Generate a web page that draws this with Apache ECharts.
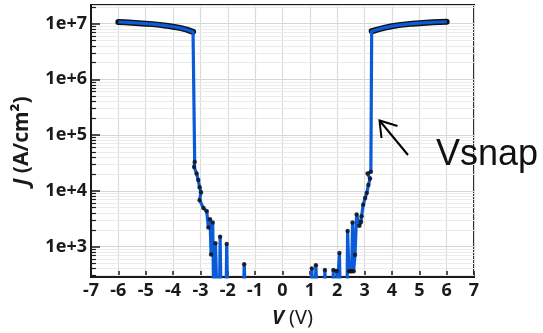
<!DOCTYPE html>
<html>
<head>
<meta charset="utf-8">
<script src="https://cdn.jsdelivr.net/npm/echarts@6/dist/echarts.min.js"></script>
<style>
html,body{margin:0;padding:0;background:#fff;}
#c{width:543px;height:333px;}
</style>
</head>
<body>
<div id="c"></div>
<script>
// ---- data ----
// left high-current plateau (V, J)
var leftPlateauV = [-6.0, -5.75, -5.5, -5.25, -5.0, -4.75, -4.5, -4.25, -4.0, -3.75, -3.5, -3.27];
var leftPlateauJ = [1.07e7, 1.06e7, 1.04e7, 1.02e7, 1.0e7, 9.8e6, 9.5e6, 9.2e6, 8.8e6, 8.4e6, 7.8e6, 7.1e6];
// left low-current tail (values below 284 fall outside the plotted range)
var leftTailV = [-3.21, -3.23, -3.14, -3.08, -3.03, -2.98, -3.03, -2.89, -2.77, -2.71, -2.65, -2.61, -2.55, -2.52, -2.47, -2.45, -2.40, -2.30, -2.28, -2.25, -2.19, -2.06, -2.04, -2.01, -1.42, -1.40, -1.36];
var leftTailJ = [3.3e4, 2.67e4, 2.04e4, 1.56e4, 1.16e4, 9.4e3, 6.8e3, 4.9e3, 4.3e3, 2.2e3, 3.1e3, 723, 2.7e3, 150, 150, 1.14e3, 150, 150, 1.5e3, 150, 150, 150, 1.11e3, 150, 150, 482, 150];
// right low-current tail
var rightTailV = [1.05, 1.07, 1.12, 1.20, 1.22, 1.26, 1.53, 1.55, 1.58, 1.84, 1.86, 1.98, 2.00, 2.06, 2.08, 2.11, 2.36, 2.38, 2.43, 2.48, 2.53, 2.56, 2.60, 2.65, 2.71, 2.81, 2.87, 2.89, 2.95, 3.02, 3.08, 3.14, 3.20, 3.11, 3.23];
var rightTailJ = [150, 405, 150, 150, 462, 150, 150, 378, 150, 150, 378, 365, 150, 150, 762, 150, 150, 1.9e3, 360, 360, 360, 2.7e3, 360, 714, 3.77e3, 2.35e3, 2.75e3, 3.5e3, 5.6e3, 7.4e3, 9.1e3, 1.27e4, 1.66e4, 2.04e4, 2.2e4];
// right high-current plateau
var rightPlateauV = [3.26, 3.5, 3.75, 4.0, 4.25, 4.5, 4.75, 5.0, 5.25, 5.5, 5.75, 6.0];
var rightPlateauJ = [7.3e6, 7.9e6, 8.5e6, 9.0e6, 9.4e6, 9.7e6, 1.0e7, 1.02e7, 1.04e7, 1.06e7, 1.07e7, 1.08e7];

var xTicks = [-7, 7, 1];          // min, max, interval
var yRange = [284, 2.16e7];

function pairs(v, j) { return v.map(function (x, i) { return [x, j[i]]; }); }

var fullCurve = [].concat(pairs(leftPlateauV, leftPlateauJ), pairs(leftTailV, leftTailJ),
                          pairs(rightTailV, rightTailJ), pairs(rightPlateauV, rightPlateauJ));
var tailDots = [].concat(pairs(leftTailV, leftTailJ), pairs(rightTailV, rightTailJ))
  .filter(function (p) { return p[1] >= yRange[0]; });

// minor log grid positions
var minorVals = [];
for (var d = 2; d <= 7; d++) for (var k = 2; k <= 9; k++) {
  var v = k * Math.pow(10, d);
  if (v > yRange[0] && v < yRange[1]) minorVals.push(v);
}
var minorGrid = minorVals.map(function (v) { return { yAxis: v }; });
var minorTicks = minorVals.map(function (v) { return [{ coord: [-7, v] }, { coord: [-6.82, v] }]; });

var font = 'Noto Sans';
var outlineStyle = { color: '#111', width: 6, cap: 'round', join: 'round' };
var chart = echarts.init(document.getElementById('c'));
chart.setOption({
  animation: false,
  backgroundColor: '#fff',
  grid: { left: 91, right: 69, top: 5, bottom: 51, show: true, borderColor: '#1a1a1a', borderWidth: 2, backgroundColor: 'transparent' },
  xAxis: {
    type: 'value', min: xTicks[0], max: xTicks[1], interval: xTicks[2],
    axisLine: { onZero: false, lineStyle: { color: '#1a1a1a', width: 2 } },
    axisTick: { inside: true, length: 6, lineStyle: { color: '#1a1a1a', width: 1.5 } },
    axisLabel: { color: '#1a1a1a', fontFamily: font, fontWeight: 'bold', fontSize: 18, margin: 5 },
    splitLine: { lineStyle: { color: '#dcdcdc', width: 1.2 } },
    name: '{i|V} (V)', nameLocation: 'middle', nameGap: 31,
    nameTextStyle: { fontFamily: font, fontSize: 20, color: '#1a1a1a', padding: [0, 0, 0, 20],
      rich: { i: { fontStyle: 'italic', fontFamily: font, fontSize: 20, fontWeight: 'bold', color: '#1a1a1a' } } }
  },
  yAxis: {
    type: 'log', logBase: 10, min: yRange[0], max: yRange[1],
    axisLine: { onZero: false, lineStyle: { color: '#1a1a1a', width: 2 } },
    axisTick: { inside: true, length: 9, lineStyle: { color: '#1a1a1a', width: 1.5 } },
    axisLabel: { color: '#1a1a1a', fontFamily: font, fontWeight: 'bold', fontSize: 18, margin: 4,
      showMinLabel: false, showMaxLabel: false,
      formatter: function (v) { return '1e+' + Math.round(Math.log10(v)); } },
    splitLine: { lineStyle: { color: '#d6d6d6', width: 1.2 } },
    name: '{i|J} (A/cm²)', nameLocation: 'middle', nameGap: 58, nameRotate: 90,
    nameTextStyle: { fontFamily: font, fontSize: 21, fontWeight: 'bold', color: '#1a1a1a',
      rich: { i: { fontStyle: 'italic', fontFamily: font, fontSize: 21, fontWeight: 'bold', color: '#1a1a1a' } } }
  },
  series: [
    { type: 'line', data: [], z: 1, silent: true,
      markLine: { z: 1, silent: true, symbol: 'none', label: { show: false }, animation: false,
        lineStyle: { color: '#ebebeb', width: 1, type: 'solid' }, data: minorGrid } },
    { type: 'line', data: [], z: 2, silent: true,
      markLine: { z: 2, silent: true, symbol: 'none', label: { show: false }, animation: false,
        lineStyle: { color: '#1a1a1a', width: 1.2, type: 'solid' }, data: minorTicks } },
    { type: 'line', data: pairs(leftPlateauV, leftPlateauJ), z: 10, showSymbol: false, lineStyle: outlineStyle },
    { type: 'line', data: pairs(rightPlateauV, rightPlateauJ), z: 10, showSymbol: false, lineStyle: outlineStyle },
    { type: 'line', data: fullCurve, z: 11, showSymbol: false,
      lineStyle: { color: '#0b5bd9', width: 3.2, join: 'round' } },
    { type: 'scatter', data: tailDots, z: 12, symbolSize: 4.5,
      itemStyle: { color: '#111' } }
  ],
  graphic: [
    { type: 'polyline', shape: { points: [[408, 155], [379.5, 120.5]] }, style: { stroke: '#000', lineWidth: 2 }, z: 20 },
    { type: 'polyline', shape: { points: [[397.5, 126], [379.5, 120.5], [381.5, 138]] }, style: { stroke: '#000', lineWidth: 2, fill: null }, z: 20 },
    { type: 'text', x: 436, y: 155, z: 20,
      style: { text: 'Vsnap', font: '36px "Liberation Sans", Arial, sans-serif', fill: '#111', textVerticalAlign: 'middle', textAlign: 'left' } }
  ]
});
</script>
</body>
</html>
